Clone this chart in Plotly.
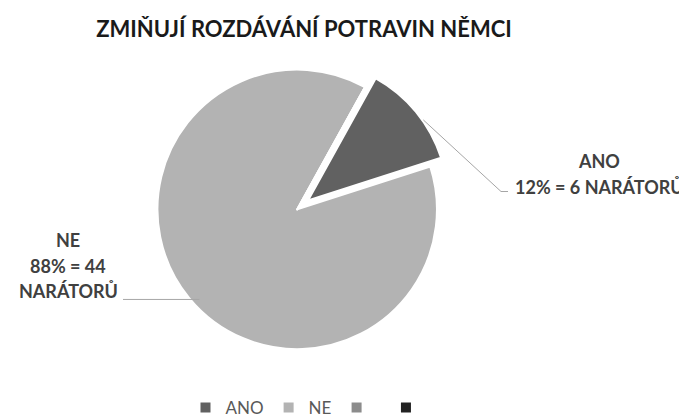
import math
import plotly.graph_objects as go

# ---- data ----
labels = ["ANO", "NE", " ", "  "]
values = [6, 44, 0, 0]
label_lines = {
    "ANO": ["ANO", "12% = 6 NARÁTORŮ"],
    "NE": ["NE", "88% = 44", "NARÁTORŮ"],
}
colors = ["#616161", "#b3b3b3", "#8c8c8c", "#222222"]
pulls = [0.1, 0, 0, 0]
title_text = "ZMIŇUJÍ ROZDÁVÁNÍ POTRAVIN NĚMCI"

W, H = 687, 418
ROT = 29
CX, CY, R = 298, 211, 138   # desired pie centre / radius in px

# plotly shrinks/shifts pie for pull; empirical compensation
half = 157.5
DCX, DCY = CX - 8.8, CY - 4.7

fig = go.Figure(go.Pie(
    labels=labels, values=values, sort=False, direction="clockwise",
    rotation=ROT, pull=pulls, textinfo="none", hoverinfo="label+value+percent",
    marker=dict(colors=colors, line=dict(color="white", width=2)),
    domain=dict(x=[(DCX - half) / W, (DCX + half) / W],
                y=[1 - (DCY + half) / H, 1 - (DCY - half) / H]),
))

def px(x, y):
    return x / W, 1 - y / H

# anchor points from slice mid-angles
total = sum(values)
cum = 0
anchors = {}
for lab, v, p in zip(labels, values, pulls):
    mid = ROT + 360 * (cum + v / 2) / total
    cum += v
    a = math.radians(mid)
    rr = R * (1 + p)
    anchors[lab] = (CX + rr * math.sin(a), CY - rr * math.cos(a))

shapes = []
annotations = []
lab_font = dict(family="Lato, Noto Sans, sans-serif", size=18, color="#404040")

# ANO label
ax, ay = anchors["ANO"]
shapes.append(dict(type="path", xref="paper", yref="paper",
                   path="M {} {} L {} {} L {} {}".format(*px(ax, ay), *px(493, 188), *px(500, 188)),
                   line=dict(color="#a6a6a6", width=1)))
for txt, yy in zip(label_lines["ANO"], [157, 183]):
    x0, y0 = px(591, yy)
    annotations.append(dict(x=x0, y=y0, xref="paper", yref="paper", text="<b>%s</b>" % txt,
                            showarrow=False, xanchor="center", yanchor="middle", font=lab_font))

# NE label
nx, ny = anchors["NE"]
shapes.append(dict(type="path", xref="paper", yref="paper",
                   path="M {} {} L {} {}".format(*px(nx, ny), *px(115, ny)),
                   line=dict(color="#a6a6a6", width=1)))
for txt, yy in zip(label_lines["NE"], [238, 264, 290]):
    x0, y0 = px(60, yy)
    annotations.append(dict(x=x0, y=y0, xref="paper", yref="paper", text="<b>%s</b>" % txt,
                            showarrow=False, xanchor="center", yanchor="middle", font=lab_font))

fig.update_layout(
    width=W, height=H, margin=dict(l=0, r=0, t=0, b=0),
    paper_bgcolor="white", plot_bgcolor="white",
    title=dict(text="<b>%s</b>" % title_text, x=296 / W, xanchor="center",
               y=1 - 21 / H, yanchor="middle",
               font=dict(family="Lato, Noto Sans, sans-serif", size=22, color="#1a1a1a")),
    showlegend=True,
    legend=dict(orientation="h", x=305 / W, xanchor="center", y=1 - 410 / H, yanchor="middle",
                font=dict(family="Lato, Noto Sans, sans-serif", size=17, color="#595959"),
                itemclick=False, itemdoubleclick=False),
    shapes=shapes, annotations=annotations,
)

fig.write_html("out.html")
